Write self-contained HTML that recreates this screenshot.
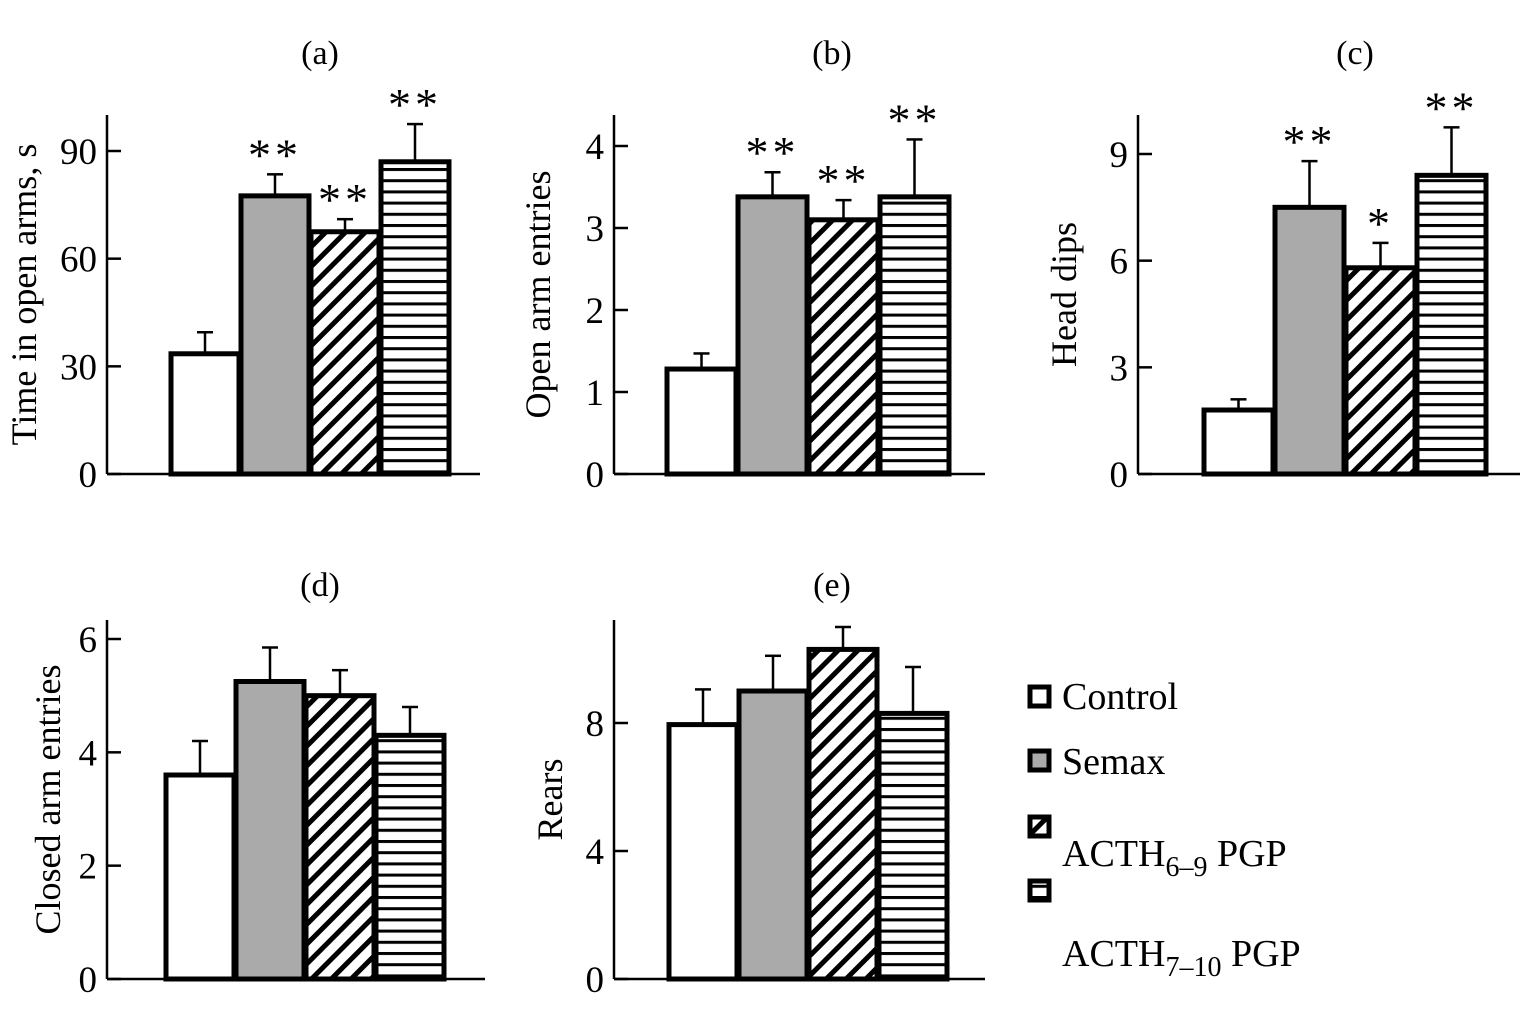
<!DOCTYPE html>
<html><head><meta charset="utf-8"><style>
html,body{margin:0;padding:0;background:#fff;}
svg{display:block;font-family:"Liberation Serif",serif;}
</style></head><body>
<svg id="c" width="1535" height="1020">
<defs>
<pattern id="diag" patternUnits="userSpaceOnUse" width="14" height="14" patternTransform="rotate(45)">
<rect width="14" height="14" fill="#fff"/><rect x="0" y="0" width="5" height="14" fill="#000"/></pattern>
<pattern id="horiz" patternUnits="userSpaceOnUse" width="10" height="11.2">
<rect width="10" height="11.2" fill="#fff"/><rect x="0" y="0" width="10" height="3" fill="#000"/></pattern>
</defs>
</svg>
<script>
const groups=['Control','Semax','ACTH6-9 PGP','ACTH7-10 PGP'];
const valsA=[33.5,77.5,67.5,87]; const errA=[39.5,83.5,71,97.5]; const starsA=['','**','**','**'];
const valsB=[1.28,3.38,3.1,3.38]; const errB=[1.47,3.68,3.34,4.08]; const starsB=['','**','**','**'];
const valsC=[1.8,7.5,5.8,8.4]; const errC=[2.1,8.8,6.5,9.75]; const starsC=['','**','*','**'];
const valsD=[3.6,5.25,5.0,4.3]; const errD=[4.2,5.85,5.45,4.8]; const starsD=['','','',''];
const valsE=[7.95,9.0,10.3,8.3]; const errE=[9.05,10.1,11.0,9.75]; const starsE=['','','',''];
const ticksA=[0,30,60,90], ticksB=[0,1,2,3,4], ticksC=[0,3,6,9], ticksD=[0,2,4,6], ticksE=[0,4,8];
const fills=['#fff','#aaa','url(#diag)','url(#horiz)'];
const NS='http://www.w3.org/2000/svg';
const svg=document.getElementById('c');
function el(t,a,p){const e=document.createElementNS(NS,t);for(const k in a)e.setAttribute(k,a[k]);(p||svg).appendChild(e);return e;}
function panel(o){
 const g=el('g',{});
 
 
 const y=v=>o.y0-(v-0)*(o.y0-o.yTop)/o.vTop;
 el('line',{x1:o.ax,y1:o.axTop,x2:o.ax,y2:o.y0,stroke:'#000','stroke-width':2.5},g);
 el('line',{x1:o.ax,y1:o.y0,x2:o.axEnd,y2:o.y0,stroke:'#000','stroke-width':2.5},g);
 o.ticks.forEach(t=>{
  el('line',{x1:o.ax,y1:y(t),x2:o.ax+14,y2:y(t),stroke:'#000','stroke-width':2.5},g);
  const tx=el('text',{x:o.ax-10,y:y(t)+13,'text-anchor':'end','font-size':37},g);tx.textContent=t;
  
  
 });
 const tt=el('text',{x:o.tx,y:o.ty,'text-anchor':'middle','font-size':34},g);tt.textContent='('+o.id+')';
 
 
 const yl=el('text',{x:0,y:0,'text-anchor':'middle','font-size':36,transform:`translate(${o.lx},${(o.y0+o.axTop)/2}) rotate(-90)`},g);yl.textContent=o.label;
 
 
 const bw=o.bw;
 o.vals.forEach((v,i)=>{
  const x=o.bx+i*(bw+2), cx=x+bw/2;
  el('line',{x1:cx,y1:y(v),x2:cx,y2:y(o.err[i]),stroke:'#000','stroke-width':2.5},g);
  el('line',{x1:cx-8,y1:y(o.err[i]),x2:cx+8,y2:y(o.err[i]),stroke:'#000','stroke-width':2.5},g);
  const r=el('rect',{x:x,y:y(v),width:bw,height:o.y0-y(v),fill:fills[i],stroke:'#000','stroke-width':5},g);
  
  
  if(o.stars[i]){const s=el('text',{x:cx,y:Math.min(y(o.err[i]),y(v))-4,'text-anchor':'middle','font-size':46,'letter-spacing':'4'},g);s.textContent=o.stars[i];
   
   }
 });
}
panel({id:'a',ax:107,axTop:115,y0:474,yTop:151,vTop:90,axEnd:480,ticks:ticksA,vals:valsA,err:errA,stars:starsA,bx:171,bw:68,tx:320,ty:64,lx:36,label:'Time in open arms, s'});
panel({id:'b',ax:614,axTop:115,y0:474,yTop:146,vTop:4,axEnd:985,ticks:ticksB,vals:valsB,err:errB,stars:starsB,bx:667,bw:69,tx:832,ty:64,lx:550,label:'Open arm entries'});
panel({id:'c',ax:1138,axTop:115,y0:474,yTop:154,vTop:9,axEnd:1520,ticks:ticksC,vals:valsC,err:errC,stars:starsC,bx:1204,bw:69,tx:1355,ty:64,lx:1076,label:'Head dips'});
panel({id:'d',ax:107,axTop:620,y0:979,yTop:639,vTop:6,axEnd:485,ticks:ticksD,vals:valsD,err:errD,stars:starsD,bx:166,bw:68,tx:320,ty:596,lx:60,label:'Closed arm entries'});
panel({id:'e',ax:614,axTop:620,y0:979,yTop:723,vTop:8,axEnd:985,ticks:ticksE,vals:valsE,err:errE,stars:starsE,bx:669,bw:68,tx:832,ty:596,lx:562,label:'Rears'});
// legend
const lg=el('g',{});


const boxY=[687,751,817,881];
fills.forEach((f,i)=>{
 const b=el('rect',{x:1030,y:boxY[i],width:19,height:19,fill:f,stroke:'#000','stroke-width':5},lg);
 
 
});
const t1=el('text',{x:1062,y:709,'font-size':38},lg);t1.textContent='Control';


const t2=el('text',{x:1062,y:774,'font-size':38},lg);t2.textContent='Semax';


const t3=el('text',{x:1062,y:866,'font-size':38},lg);t3.innerHTML='ACTH<tspan font-size="28" dy="10">6–9</tspan><tspan dy="-10"> PGP</tspan>';


const t4=el('text',{x:1062,y:966,'font-size':38},lg);t4.innerHTML='ACTH<tspan font-size="28" dy="10">7–10</tspan><tspan dy="-10"> PGP</tspan>';


</script>
</body></html>
